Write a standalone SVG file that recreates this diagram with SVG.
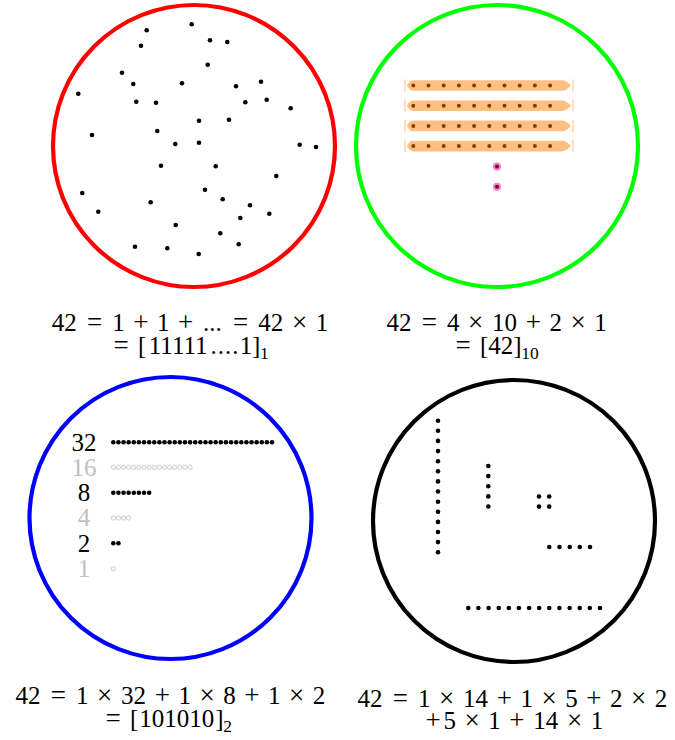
<svg xmlns="http://www.w3.org/2000/svg" xmlns:xlink="http://www.w3.org/1999/xlink" width="675" height="740" viewBox="0 0 675 740">
<style>
  .ring { fill: none; stroke-width: 4.2; }
  .d { fill: #000; }
  .o { fill: none; stroke: #b8b8b8; stroke-width: 0.7; }
  .bd { fill: #804000; }
  .eq { font-family: "Liberation Serif", "Times New Roman", serif; font-size: 25px; fill: #000; text-anchor: middle; }
  .op { font-size: 27px; }
  .sub { font-size: 17.5px; }
  .lbl { font-family: "Liberation Serif", "Times New Roman", serif; font-size: 25px; text-anchor: middle; }
  .blk { fill: #000; }
  .gry { fill: #bfbfbf; }
  .tick { stroke: #ffbf80; stroke-width: 1; }
</style>
<defs>
  <path id="bar" d="M407,0 Q409,-5.3 414,-5.3 L562,-5.3 Q566,-5.3 571,0 Q566,5.3 562,5.3 L414,5.3 Q409,5.3 407,0 Z" fill="#ffbf80"/>
  <g id="barrow">
    <line class="tick" x1="405" y1="-6" x2="405" y2="6"/>
    <line class="tick" x1="573" y1="-6" x2="573" y2="6"/>
    <use xlink:href="#bar"/>
    <circle class="bd" cx="413.3" cy="0" r="2"/>
    <circle class="bd" cx="428.5" cy="0" r="2"/>
    <circle class="bd" cx="443.7" cy="0" r="2"/>
    <circle class="bd" cx="458.9" cy="0" r="2"/>
    <circle class="bd" cx="474.1" cy="0" r="2"/>
    <circle class="bd" cx="489.3" cy="0" r="2"/>
    <circle class="bd" cx="504.5" cy="0" r="2"/>
    <circle class="bd" cx="519.7" cy="0" r="2"/>
    <circle class="bd" cx="534.9" cy="0" r="2"/>
    <circle class="bd" cx="550.1" cy="0" r="2"/>
  </g>
</defs>
<rect width="675" height="740" fill="#fff"/>

<g id="unary">
  <circle class="ring" cx="194" cy="146" r="141" stroke="#ff0000"/>
  <g id="unary-dots">
    <circle class="d" cx="191.7" cy="24.3" r="2.3"/>
    <circle class="d" cx="146.7" cy="30.3" r="2.3"/>
    <circle class="d" cx="141" cy="45.7" r="2.3"/>
    <circle class="d" cx="210" cy="40.3" r="2.3"/>
    <circle class="d" cx="227.3" cy="42" r="2.3"/>
    <circle class="d" cx="207.7" cy="64.7" r="2.3"/>
    <circle class="d" cx="122" cy="72.7" r="2.3"/>
    <circle class="d" cx="133.3" cy="84" r="2.3"/>
    <circle class="d" cx="182" cy="83.3" r="2.3"/>
    <circle class="d" cx="236" cy="86.3" r="2.3"/>
    <circle class="d" cx="261" cy="81.7" r="2.3"/>
    <circle class="d" cx="78.3" cy="93.7" r="2.3"/>
    <circle class="d" cx="136.3" cy="101.7" r="2.3"/>
    <circle class="d" cx="156" cy="102.7" r="2.3"/>
    <circle class="d" cx="245.3" cy="102.3" r="2.3"/>
    <circle class="d" cx="266.7" cy="99.7" r="2.3"/>
    <circle class="d" cx="290.7" cy="108.3" r="2.3"/>
    <circle class="d" cx="199" cy="120.7" r="2.3"/>
    <circle class="d" cx="229" cy="119.7" r="2.3"/>
    <circle class="d" cx="92" cy="135" r="2.3"/>
    <circle class="d" cx="157.3" cy="131" r="2.3"/>
    <circle class="d" cx="175.3" cy="144" r="2.3"/>
    <circle class="d" cx="199" cy="142.7" r="2.3"/>
    <circle class="d" cx="299.7" cy="144.7" r="2.3"/>
    <circle class="d" cx="316" cy="147" r="2.3"/>
    <circle class="d" cx="161" cy="165.7" r="2.3"/>
    <circle class="d" cx="215.7" cy="166.3" r="2.3"/>
    <circle class="d" cx="276.3" cy="176" r="2.3"/>
    <circle class="d" cx="82.3" cy="193" r="2.3"/>
    <circle class="d" cx="205" cy="189.7" r="2.3"/>
    <circle class="d" cx="150.7" cy="202.3" r="2.3"/>
    <circle class="d" cx="222.7" cy="199.3" r="2.3"/>
    <circle class="d" cx="250" cy="205.3" r="2.3"/>
    <circle class="d" cx="98.3" cy="211.7" r="2.3"/>
    <circle class="d" cx="269.3" cy="213.7" r="2.3"/>
    <circle class="d" cx="240.3" cy="218" r="2.3"/>
    <circle class="d" cx="175.7" cy="225" r="2.3"/>
    <circle class="d" cx="220.3" cy="233.3" r="2.3"/>
    <circle class="d" cx="135" cy="246.7" r="2.3"/>
    <circle class="d" cx="167.3" cy="248.3" r="2.3"/>
    <circle class="d" cx="198.7" cy="254" r="2.3"/>
    <circle class="d" cx="238.7" cy="244.3" r="2.3"/>
  </g>
  <text class="eq" y="331"><tspan x="64.3">42</tspan><tspan class="op" x="94.6">=</tspan><tspan x="118.5">1</tspan><tspan class="op" x="140.8">+</tspan><tspan x="163.2">1</tspan><tspan class="op" x="185.6">+</tspan><tspan x="212.3">...</tspan><tspan class="op" x="240.5">=</tspan><tspan x="270.8">42</tspan><tspan class="op" x="299.7">×</tspan><tspan x="322.1">1</tspan></text>
  <text class="eq" y="354"><tspan class="op" x="121.1">=</tspan><tspan x="142.1">[</tspan><tspan x="178.2">11111</tspan><tspan x="225.1" letter-spacing="1">....</tspan><tspan x="246.1">1</tspan><tspan x="256.2">]</tspan><tspan class="sub" x="264.3" y="359">1</tspan></text>
</g>

<g id="decimal">
  <circle class="ring" cx="497" cy="146" r="141" stroke="#00ff00"/>
  <use xlink:href="#barrow" y="85.5"/>
  <use xlink:href="#barrow" y="105.7"/>
  <use xlink:href="#barrow" y="125.9"/>
  <use xlink:href="#barrow" y="146.1"/>
  <circle cx="497" cy="166.5" r="4" fill="#ef7fc8"/>
  <circle cx="497" cy="166.5" r="2" fill="#800040"/>
  <circle cx="497" cy="186.7" r="4" fill="#ef7fc8"/>
  <circle cx="497" cy="186.7" r="2" fill="#800040"/>
  <text class="eq" y="331"><tspan x="399">42</tspan><tspan class="op" x="429.3">=</tspan><tspan x="453.2">4</tspan><tspan class="op" x="475.5">×</tspan><tspan x="504.4">10</tspan><tspan class="op" x="533.3">+</tspan><tspan x="555.7">2</tspan><tspan class="op" x="578.1">×</tspan><tspan x="600.5">1</tspan></text>
  <text class="eq" y="354"><tspan class="op" x="463.1">=</tspan><tspan x="484.1">[</tspan><tspan x="500.7">42</tspan><tspan x="517.3">]</tspan><tspan class="sub" x="530" y="359">10</tspan></text>
</g>

<g id="binary">
  <circle class="ring" cx="170.5" cy="518" r="141" stroke="#0000ff"/>
  <text class="lbl blk" x="84" y="450.7">32</text>
  <text class="lbl gry" x="84" y="475.9">16</text>
  <text class="lbl blk" x="84" y="501.1">8</text>
  <text class="lbl gry" x="84" y="526.3">4</text>
  <text class="lbl blk" x="84" y="551.5">2</text>
  <text class="lbl gry" x="84" y="576.7">1</text>
  <g id="row32">
    <circle class="d" cx="113.3" cy="442.3" r="2.3"/><circle class="d" cx="118.42" cy="442.3" r="2.3"/><circle class="d" cx="123.54" cy="442.3" r="2.3"/><circle class="d" cx="128.66" cy="442.3" r="2.3"/><circle class="d" cx="133.78" cy="442.3" r="2.3"/><circle class="d" cx="138.9" cy="442.3" r="2.3"/><circle class="d" cx="144.02" cy="442.3" r="2.3"/><circle class="d" cx="149.14" cy="442.3" r="2.3"/>
    <circle class="d" cx="154.26" cy="442.3" r="2.3"/><circle class="d" cx="159.38" cy="442.3" r="2.3"/><circle class="d" cx="164.5" cy="442.3" r="2.3"/><circle class="d" cx="169.62" cy="442.3" r="2.3"/><circle class="d" cx="174.74" cy="442.3" r="2.3"/><circle class="d" cx="179.86" cy="442.3" r="2.3"/><circle class="d" cx="184.98" cy="442.3" r="2.3"/><circle class="d" cx="190.1" cy="442.3" r="2.3"/>
    <circle class="d" cx="195.22" cy="442.3" r="2.3"/><circle class="d" cx="200.34" cy="442.3" r="2.3"/><circle class="d" cx="205.46" cy="442.3" r="2.3"/><circle class="d" cx="210.58" cy="442.3" r="2.3"/><circle class="d" cx="215.7" cy="442.3" r="2.3"/><circle class="d" cx="220.82" cy="442.3" r="2.3"/><circle class="d" cx="225.94" cy="442.3" r="2.3"/><circle class="d" cx="231.06" cy="442.3" r="2.3"/>
    <circle class="d" cx="236.18" cy="442.3" r="2.3"/><circle class="d" cx="241.3" cy="442.3" r="2.3"/><circle class="d" cx="246.42" cy="442.3" r="2.3"/><circle class="d" cx="251.54" cy="442.3" r="2.3"/><circle class="d" cx="256.66" cy="442.3" r="2.3"/><circle class="d" cx="261.78" cy="442.3" r="2.3"/><circle class="d" cx="266.9" cy="442.3" r="2.3"/><circle class="d" cx="272.02" cy="442.3" r="2.3"/>
  </g>
  <g id="row16">
    <circle class="o" cx="113.3" cy="467.3" r="2.1"/><circle class="o" cx="118.42" cy="467.3" r="2.1"/><circle class="o" cx="123.54" cy="467.3" r="2.1"/><circle class="o" cx="128.66" cy="467.3" r="2.1"/><circle class="o" cx="133.78" cy="467.3" r="2.1"/><circle class="o" cx="138.9" cy="467.3" r="2.1"/><circle class="o" cx="144.02" cy="467.3" r="2.1"/><circle class="o" cx="149.14" cy="467.3" r="2.1"/>
    <circle class="o" cx="154.26" cy="467.3" r="2.1"/><circle class="o" cx="159.38" cy="467.3" r="2.1"/><circle class="o" cx="164.5" cy="467.3" r="2.1"/><circle class="o" cx="169.62" cy="467.3" r="2.1"/><circle class="o" cx="174.74" cy="467.3" r="2.1"/><circle class="o" cx="179.86" cy="467.3" r="2.1"/><circle class="o" cx="184.98" cy="467.3" r="2.1"/><circle class="o" cx="190.1" cy="467.3" r="2.1"/>
  </g>
  <g id="row8">
    <circle class="d" cx="113.3" cy="492.7" r="2.3"/><circle class="d" cx="118.42" cy="492.7" r="2.3"/><circle class="d" cx="123.54" cy="492.7" r="2.3"/><circle class="d" cx="128.66" cy="492.7" r="2.3"/><circle class="d" cx="133.78" cy="492.7" r="2.3"/><circle class="d" cx="138.9" cy="492.7" r="2.3"/><circle class="d" cx="144.02" cy="492.7" r="2.3"/><circle class="d" cx="149.14" cy="492.7" r="2.3"/>
  </g>
  <g id="row4">
    <circle class="o" cx="113.3" cy="518" r="2.1"/><circle class="o" cx="118.42" cy="518" r="2.1"/><circle class="o" cx="123.54" cy="518" r="2.1"/><circle class="o" cx="128.66" cy="518" r="2.1"/>
  </g>
  <g id="row2">
    <circle class="d" cx="113.3" cy="543.3" r="2.3"/><circle class="d" cx="118.42" cy="543.3" r="2.3"/>
  </g>
  <g id="row1">
    <circle class="o" cx="113.3" cy="568.7" r="2.1"/>
  </g>
  <text class="eq" y="704"><tspan x="28">42</tspan><tspan class="op" x="58.3">=</tspan><tspan x="82.2">1</tspan><tspan class="op" x="104.5">×</tspan><tspan x="133.4">32</tspan><tspan class="op" x="162.3">+</tspan><tspan x="184.7">1</tspan><tspan class="op" x="207.1">×</tspan><tspan x="229.5">8</tspan><tspan class="op" x="251.9">+</tspan><tspan x="274.2">1</tspan><tspan class="op" x="296.6">×</tspan><tspan x="319">2</tspan></text>
  <text class="eq" y="726.5"><tspan class="op" x="113.1">=</tspan><tspan x="134.1">[</tspan><tspan x="176.7">101010</tspan><tspan x="219.3">]</tspan><tspan class="sub" x="227.5" y="731.5">2</tspan></text>
</g>

<g id="mixed">
  <circle class="ring" cx="514" cy="521" r="141" stroke="#000000"/>
  <g id="col14">
    <circle class="d" cx="438" cy="420.7" r="2.3"/><circle class="d" cx="438" cy="430.8" r="2.3"/><circle class="d" cx="438" cy="440.9" r="2.3"/><circle class="d" cx="438" cy="451.1" r="2.3"/><circle class="d" cx="438" cy="461.2" r="2.3"/><circle class="d" cx="438" cy="471.3" r="2.3"/><circle class="d" cx="438" cy="481.4" r="2.3"/>
    <circle class="d" cx="438" cy="491.5" r="2.3"/><circle class="d" cx="438" cy="501.7" r="2.3"/><circle class="d" cx="438" cy="511.8" r="2.3"/><circle class="d" cx="438" cy="521.9" r="2.3"/><circle class="d" cx="438" cy="532" r="2.3"/><circle class="d" cx="438" cy="542.1" r="2.3"/><circle class="d" cx="438" cy="552.3" r="2.3"/>
  </g>
  <g id="col5">
    <circle class="d" cx="488.3" cy="466" r="2.3"/><circle class="d" cx="488.3" cy="476.1" r="2.3"/><circle class="d" cx="488.3" cy="486.2" r="2.3"/><circle class="d" cx="488.3" cy="496.4" r="2.3"/><circle class="d" cx="488.3" cy="506.5" r="2.3"/>
  </g>
  <g id="square4">
    <circle class="d" cx="539" cy="496.5" r="2.3"/><circle class="d" cx="549.2" cy="496.5" r="2.3"/><circle class="d" cx="539" cy="506.6" r="2.3"/><circle class="d" cx="549.2" cy="506.6" r="2.3"/>
  </g>
  <g id="row5">
    <circle class="d" cx="549.3" cy="547" r="2.3"/><circle class="d" cx="559.5" cy="547" r="2.3"/><circle class="d" cx="569.7" cy="547" r="2.3"/><circle class="d" cx="579.8" cy="547" r="2.3"/><circle class="d" cx="590" cy="547" r="2.3"/>
  </g>
  <g id="row14">
    <circle class="d" cx="468.3" cy="608" r="2.3"/><circle class="d" cx="478.4" cy="608" r="2.3"/><circle class="d" cx="488.6" cy="608" r="2.3"/><circle class="d" cx="498.7" cy="608" r="2.3"/><circle class="d" cx="508.8" cy="608" r="2.3"/><circle class="d" cx="518.9" cy="608" r="2.3"/><circle class="d" cx="529.1" cy="608" r="2.3"/>
    <circle class="d" cx="539.2" cy="608" r="2.3"/><circle class="d" cx="549.3" cy="608" r="2.3"/><circle class="d" cx="559.4" cy="608" r="2.3"/><circle class="d" cx="569.6" cy="608" r="2.3"/><circle class="d" cx="579.7" cy="608" r="2.3"/><circle class="d" cx="589.8" cy="608" r="2.3"/><circle class="d" cx="600" cy="608" r="2.3"/>
  </g>
  <text class="eq" y="706.5"><tspan x="370">42</tspan><tspan class="op" x="400.3">=</tspan><tspan x="424.2">1</tspan><tspan class="op" x="446.5">×</tspan><tspan x="475.4">14</tspan><tspan class="op" x="504.3">+</tspan><tspan x="526.7">1</tspan><tspan class="op" x="549.1">×</tspan><tspan x="571.5">5</tspan><tspan class="op" x="593.9">+</tspan><tspan x="616.2">2</tspan><tspan class="op" x="638.6">×</tspan><tspan x="661">2</tspan></text>
  <text class="eq" y="729"><tspan class="op" x="433.1">+</tspan><tspan x="449.7">5</tspan><tspan class="op" x="472.1">×</tspan><tspan x="494.5">1</tspan><tspan class="op" x="516.9">+</tspan><tspan x="545.8">14</tspan><tspan class="op" x="574.7">×</tspan><tspan x="597">1</tspan></text>
</g>
</svg>
